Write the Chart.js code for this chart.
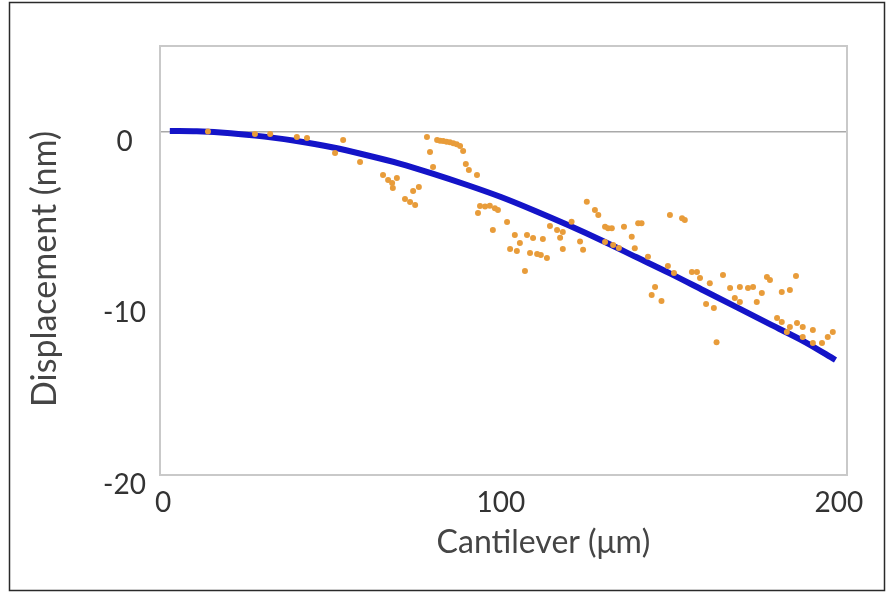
<!DOCTYPE html>
<html>
<head>
<meta charset="utf-8">
<script src="https://cdn.jsdelivr.net/npm/chart.js@4.4.1/dist/chart.umd.min.js"></script>
<style>
  html, body { margin: 0; padding: 0; background: #ffffff; }
  canvas { display: block; }
</style>
</head>
<body>
<canvas id="c" width="888" height="592"></canvas>
<script>
// Measured data points (x: cantilever position in µm, y: displacement in nm)
const measX = [13.3, 27.2, 31.7, 39.6, 42.6, 50.9, 53.3, 58.3, 65.1, 66.6, 67.8, 69.2, 68.0, 71.6, 73.1, 74.6, 74.0, 75.7,
  78.1, 79.0, 79.9, 81.1, 82.0, 82.9, 83.9, 84.9, 85.9, 86.9, 87.9, 88.8, 89.6, 90.5, 92.9,
  93.8, 95.3, 96.7, 98.2, 99.1, 93.2, 101.8, 97.6, 104.1, 107.7, 109.5, 112.4, 117.5, 105.6, 102.7, 104.7,
  108.6, 110.7, 111.8, 113.6, 118.3, 107.1, 114.5, 116.6, 118.3, 120.9, 123.4, 124.3, 125.4, 127.8, 128.8,
  130.8, 131.7, 132.8, 136.4, 140.6, 141.6, 150.0, 153.6, 154.4, 130.8, 133.2, 134.9, 138.7, 139.6, 143.5,
  149.4, 151.2, 156.5, 158.0, 158.9, 161.8, 145.6, 144.6, 147.5, 160.7, 163.0, 165.7, 167.8, 170.7, 173.1,
  174.6, 177.2, 178.7, 179.6, 169.2, 170.7, 175.7, 163.8, 181.7, 183.1, 185.5, 187.6, 189.3, 192.3, 184.6,
  189.3, 192.3, 195.0, 196.7, 198.2, 183.1, 185.5, 187.3];
const measY = [0.02, -0.13, -0.13, -0.30, -0.36, -1.24, -0.48, -1.76, -2.52, -2.81, -2.98, -2.69, -3.28, -3.92, -4.09, -4.27, -3.45, -3.22,
  -0.30, -1.18, -2.05, -0.48, -0.52, -0.54, -0.58, -0.61, -0.67, -0.73, -0.83, -1.12, -1.88, -2.23, -2.52,
  -4.33, -4.36, -4.31, -4.46, -4.56, -4.73, -5.26, -5.72, -6.01, -6.01, -6.19, -6.25, -6.17, -6.48, -6.83, -6.95,
  -7.06, -7.12, -7.18, -7.36, -6.83, -8.11, -5.49, -5.72, -5.84, -5.24, -6.40, -6.88, -4.07, -4.56, -4.85,
  -5.53, -5.62, -5.62, -5.53, -5.33, -5.33, -4.85, -5.04, -5.14, -6.42, -6.60, -6.77, -6.11, -6.79, -7.28,
  -7.82, -8.23, -8.17, -8.17, -8.52, -8.83, -9.04, -9.51, -9.86, -10.03, -10.27, -8.34, -9.10, -9.04, -9.10,
  -9.04, -9.39, -8.46, -8.63, -9.69, -9.92, -9.92, -12.27, -10.85, -11.08, -11.38, -11.14, -11.38, -11.55, -11.67,
  -11.96, -12.31, -12.31, -11.96, -11.67, -9.34, -9.22, -8.40];

// Fitted curve
const fitX = [2, 10, 20, 30, 40, 50, 60, 70, 80, 90, 100, 110, 120, 130, 140, 150, 160, 170, 180, 190, 199];
const fitY = [0.05, 0.03, -0.08, -0.28, -0.55, -0.9, -1.35, -1.85, -2.45, -3.1, -3.8, -4.6, -5.45, -6.35, -7.3, -8.25, -9.25, -10.25, -11.25, -12.25, -13.3];

// Axis ticks
const xTicks = [0, 100, 200];
const yTicks = [0, -10, -20];

const measPts = measX.map((x, i) => ({ x: x, y: measY[i] }));
const fitPts = fitX.map((x, i) => ({ x: x, y: fitY[i] }));

const framePlugin = {
  id: 'frame',
  beforeDraw(chart) {
    const ctx = chart.ctx;
    ctx.save();
    ctx.fillStyle = '#ffffff';
    ctx.fillRect(0, 0, chart.width, chart.height);
    ctx.strokeStyle = '#2a2a2a';
    ctx.lineWidth = 1.5;
    ctx.strokeRect(9.5, 2.5, chart.width - 13, chart.height - 4);
    ctx.restore();
  },
  beforeDatasetsDraw(chart) {
    const a = chart.chartArea;
    const ctx = chart.ctx;
    ctx.save();
    ctx.strokeStyle = '#c9c9c9';
    ctx.lineWidth = 2;
    ctx.strokeRect(a.left, a.top, a.right - a.left, a.bottom - a.top);
    ctx.restore();
  }
};

const tickFont = { family: 'Lato', size: 28 };

new Chart(document.getElementById('c'), {
  type: 'scatter',
  data: {
    datasets: [
      {
        label: 'Measured',
        data: measPts,
        backgroundColor: '#e89c3a',
        borderColor: '#e89c3a',
        borderWidth: 0,
        pointRadius: 3,
        showLine: false
      },
      {
        label: 'Fit',
        type: 'line',
        data: fitPts,
        borderColor: '#1414c8',
        borderWidth: 6,
        pointRadius: 0,
        fill: false,
        cubicInterpolationMode: 'monotone',
        borderCapStyle: 'butt'
      }
    ]
  },
  options: {
    responsive: false,
    animation: false,
    devicePixelRatio: 1,
    layout: { padding: { top: 46, right: 41, bottom: 0, left: 0 } },
    plugins: {
      legend: { display: false },
      tooltip: { enabled: false }
    },
    scales: {
      x: {
        type: 'linear',
        min: -0.9,
        max: 202.4,
        afterFit(scale) { scale.height = 117; },
        afterBuildTicks(scale) { scale.ticks = xTicks.map(v => ({ value: v })); },
        grid: { display: true, color: 'rgba(0,0,0,0)', drawTicks: false },
        border: { display: true, color: '#c9c9c9', width: 2 },
        ticks: {
          font: tickFont,
          color: '#333333',
          padding: 11,
          maxRotation: 0,
          callback: v => String(v)
        },
        title: {
          display: true,
          text: '\u2002\u2002\u2002\u2002\u2002Cantilever (μm)',
          font: { family: 'Lato', size: 32 },
          color: '#454545',
          padding: { top: 0, bottom: 30 }
        }
      },
      y: {
        type: 'linear',
        min: -20,
        max: 5,
        afterFit(scale) { scale.width = 160; },
        afterBuildTicks(scale) { scale.ticks = yTicks.map(v => ({ value: v })); },
        grid: {
          display: true,
          drawTicks: false,
          lineWidth: 1.5,
          color: c => (c.tick && c.tick.value === 0) ? '#a9a9a9' : 'rgba(0,0,0,0)'
        },
        border: { display: true, color: '#c9c9c9', width: 2 },
        ticks: {
          font: tickFont,
          color: '#333333',
          padding: 14,
          crossAlign: 'center',
          labelOffset: 10,
          callback: v => String(v)
        },
        title: {
          display: true,
          text: 'Displacement (nm)\u2002',
          font: { family: 'Lato', size: 34 },
          color: '#454545',
          padding: { top: 25, bottom: 0 }
        }
      }
    }
  },
  plugins: [framePlugin]
});
</script>
</body>
</html>
